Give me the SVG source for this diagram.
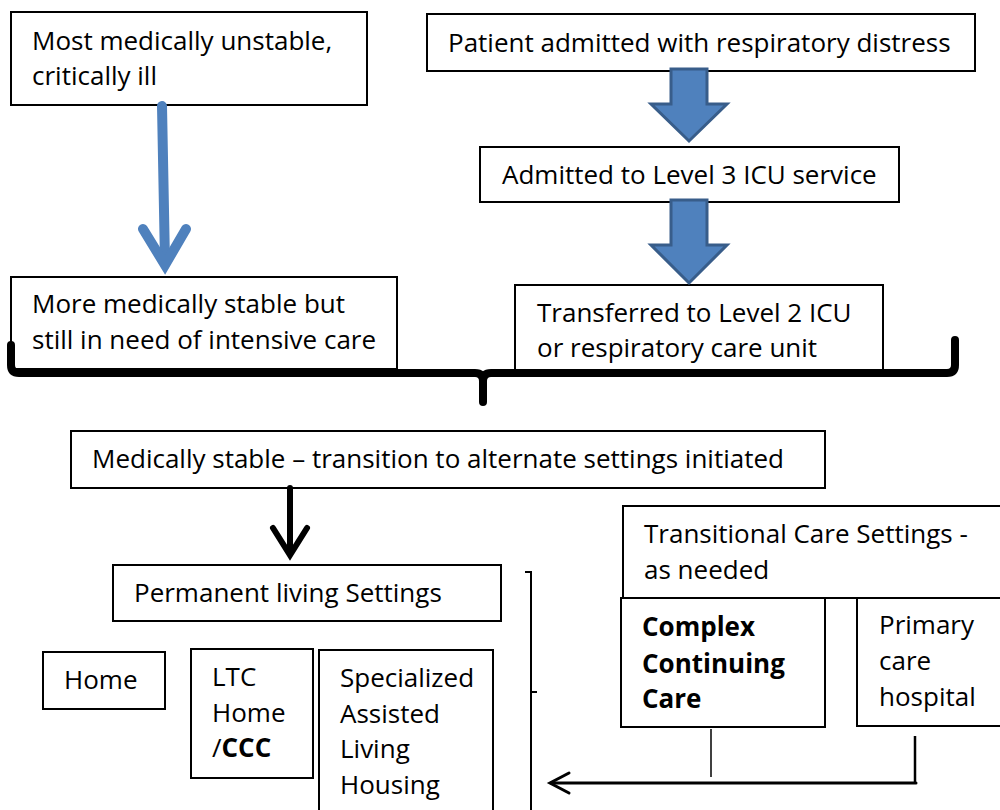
<svg xmlns="http://www.w3.org/2000/svg" width="1000" height="810" viewBox="0 0 1000 810">
  <defs>
    <style>
      .box { fill: #ffffff; stroke: #000000; stroke-width: 2; }
      .lbl { font-family: "Open Sans", "Liberation Sans", sans-serif; font-size: 26px; fill: #000000; }
      .bold { font-weight: bold; }
      .block { fill: #4f81bd; stroke: #385d8a; stroke-width: 3; stroke-linejoin: miter; }
      .blue { fill: none; stroke: #4f81bd; stroke-width: 10; stroke-linecap: round; stroke-linejoin: miter; }
      .blk { fill: none; stroke: #000000; stroke-linecap: round; stroke-linejoin: miter; }
      .brace { fill: none; stroke: #000000; stroke-width: 8; stroke-linecap: round; stroke-linejoin: round; }
    </style>
  </defs>
  <rect width="1000" height="810" fill="#ffffff"/>

  <!-- acuity column -->
  <g id="node-unstable">
    <rect class="box" x="11" y="12" width="356" height="93"/>
    <text class="lbl" x="32" y="50">Most medically unstable,</text>
    <text class="lbl" x="32" y="85">critically ill</text>
  </g>
  <g id="node-stable-intensive">
    <rect class="box" x="11" y="277" width="386" height="92"/>
    <text class="lbl" x="32" y="313">More medically stable but</text>
    <text class="lbl" x="32" y="349">still in need of intensive care</text>
  </g>

  <!-- admission pathway -->
  <g id="node-admitted">
    <rect class="box" x="427" y="14" width="548" height="57"/>
    <text class="lbl" x="448" y="52">Patient admitted with respiratory distress</text>
  </g>
  <g id="node-level3">
    <rect class="box" x="480" y="147" width="419" height="55"/>
    <text class="lbl" x="502" y="184">Admitted to Level 3 ICU service</text>
  </g>
  <g id="node-level2">
    <rect class="box" x="515" y="285" width="368" height="87"/>
    <text class="lbl" x="537" y="322">Transferred to Level 2 ICU</text>
    <text class="lbl" x="537" y="357">or respiratory care unit</text>
  </g>

  <g id="node-medically-stable">
    <rect class="box" x="71" y="431" width="754" height="57"/>
    <text class="lbl" x="92" y="468">Medically stable – transition to alternate settings initiated</text>
  </g>

  <!-- permanent settings -->
  <g id="node-permanent">
    <rect class="box" x="113" y="565" width="388" height="56"/>
    <text class="lbl" x="134" y="602">Permanent living Settings</text>
  </g>
  <g id="node-home">
    <rect class="box" x="43" y="652" width="122" height="57"/>
    <text class="lbl" x="64" y="689">Home</text>
  </g>
  <g id="node-ltc">
    <rect class="box" x="191" y="649" width="122" height="129"/>
    <text class="lbl" x="212" y="686">LTC</text>
    <text class="lbl" x="212" y="722">Home</text>
    <text class="lbl" x="212" y="757">/<tspan class="bold">CCC</tspan></text>
  </g>
  <g id="node-assisted">
    <rect class="box" x="319" y="650" width="174" height="175"/>
    <text class="lbl" x="340" y="687">Specialized</text>
    <text class="lbl" x="340" y="723">Assisted</text>
    <text class="lbl" x="340" y="758">Living</text>
    <text class="lbl" x="340" y="794">Housing</text>
  </g>

  <!-- transitional settings -->
  <g id="node-transitional">
    <rect class="box" x="623" y="506" width="390" height="92"/>
    <text class="lbl" x="644" y="543">Transitional Care Settings -</text>
    <text class="lbl" x="644" y="579">as needed</text>
  </g>
  <g id="node-ccc">
    <rect class="box" x="621" y="598" width="204" height="129"/>
    <text class="lbl bold" x="642" y="636">Complex</text>
    <text class="lbl bold" x="642" y="673">Continuing</text>
    <text class="lbl bold" x="642" y="708">Care</text>
  </g>
  <g id="node-primary">
    <rect class="box" x="857" y="598" width="160" height="128"/>
    <text class="lbl" x="879" y="634">Primary</text>
    <text class="lbl" x="879" y="670">care</text>
    <text class="lbl" x="879" y="706">hospital</text>
  </g>

  <g id="connectors">
    <!-- thin blue arrow down the acuity column -->
    <path class="blue" d="M162 106 L165 262"/>
    <path class="blue" d="M143 229 L165 265 L186 229"/>

    <!-- block arrows -->
    <polygon class="block" points="671,69 707,69 707,104 727,104 689,141 651,104 671,104"/>
    <polygon class="block" points="671,200 707,200 707,245 727,245 689,283 651,245 671,245"/>

    <!-- brace gathering both ICU streams -->
    <path class="brace" d="M11 345 L11 365 Q11 373 19 373 L475 373 Q483 373 483 381 L483 402"/>
    <path class="brace" d="M483 381 Q483 373 491 373 L947 373 Q955 373 955 365 L955 340"/>

    <!-- down to permanent settings -->
    <path class="blk" stroke-width="6" d="M290 488 L290 552"/>
    <path class="blk" stroke-width="6" d="M273 528 L290 555 L307 528"/>

    <!-- side bracket of permanent settings -->
    <path fill="none" stroke="#000" stroke-width="2" d="M525 572 L531 572 L531 812 M531 692 L537 692"/>

    <!-- return path from transitional settings -->
    <path fill="none" stroke="#000" stroke-width="1.5" d="M711 729 L711 777"/>
    <path fill="none" stroke="#000" stroke-width="2.5" d="M915 736 L915 784"/>
    <path class="blk" stroke-width="3" d="M916 783 L551 783"/>
    <path class="blk" stroke-width="3" d="M569 773 L550 783 L569 793"/>
  </g>
</svg>
